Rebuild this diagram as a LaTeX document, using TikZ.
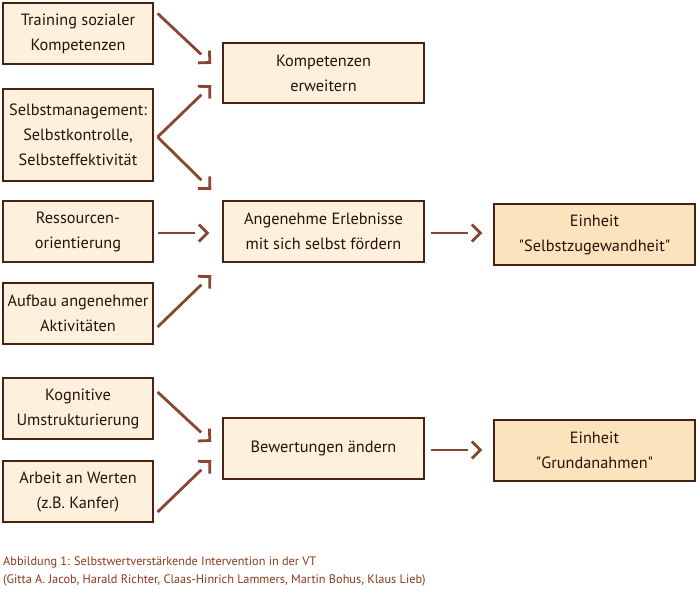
\documentclass[tikz,border=0pt]{standalone}
\usepackage{fontspec}
\setmainfont{PT Sans}
\usetikzlibrary{arrows.meta,calc,decorations.markings}
\definecolor{txt}{HTML}{2A1206}
\definecolor{brd}{HTML}{4A2212}
\definecolor{fillL}{HTML}{FDF0DC}
\definecolor{fillR}{HTML}{FBE3BE}
\definecolor{arr}{HTML}{8B4632}
\definecolor{cap}{HTML}{8B3A1A}
\tikzset{
  box/.style={draw=brd, line width=1.2pt, fill=fillL, text=txt, align=center, inner sep=0pt,
    font=\fontsize{16.3}{25}\selectfont},
  lbox/.style={box, minimum width=150pt, minimum height=61pt},
  mbox/.style={box, minimum width=201pt, minimum height=61pt},
  rbox/.style={box, fill=fillR, minimum width=201pt, minimum height=61pt},
  con/.style={draw=arr, line width=2.8pt, shorten >=14pt,
    postaction={decorate},
    decoration={markings, mark=at position 1 with {\arrow[draw=arr, line width=2.8pt]{Straight Barb[angle=90:12pt 0]}}}},
}
\begin{document}
\begin{tikzpicture}[x=1pt,y=-1pt]
\useasboundingbox[fill=white] (0,0) rectangle (700,600);
% left column
\node[lbox] (b1) at (78,33.5) {Training sozialer\\Kompetenzen};
\node[lbox, minimum height=92pt] (b2) at (78,135) {Selbstmanagement:\\Selbstkontrolle,\\Selbsteffektivität};
\node[lbox] (b3) at (78,231.5) {Ressourcen-\\orientierung};
\node[lbox] (b4) at (78,313.5) {Aufbau angenehmer\\Aktivitäten};
\node[lbox] (b5) at (78,408.5) {Kognitive\\Umstrukturierung};
\node[lbox] (b6) at (78,491.5) {Arbeit an Werten\\(z.B. Kanfer)};
% middle column
\node[mbox, minimum height=60pt] (k) at (323.5,73) {Kompetenzen\\erweitern};
\node[mbox] (a) at (323.5,231.5) {Angenehme Erlebnisse\\mit sich selbst fördern};
\node[mbox] (w) at (323.5,448.5) {Bewertungen ändern};
% right column
\node[rbox] (e1) at (594.5,234.5) {Einheit\\\textquotedbl Selbstzugewandheit\textquotedbl};
\node[rbox] (e2) at (594.5,450.5) {Einheit\\\textquotedbl Grundanahmen\textquotedbl};
% connectors
\draw[con] ($(b1.north east)+(4,11)$) -- ($(k.west)+(-11,-9)$);
\draw[con] ($(b2.east)+(4,2)$) -- ($(k.west)+(-11,12)$);
\draw[con] ($(b2.east)+(4,2)$) -- ($(a.west)+(-11,-41.5)$);
\draw[con] ($(b3.east)+(4,1.5)$) -- ($(a.west)+(-13,1.5)$);
\draw[con] ($(b4.east)+(4,13.5)$) -- ($(a.west)+(-11,43.5)$);
\draw[con] ($(a.east)+(6,1.5)$) -- ($(e1.west)+(-11,-1.5)$);
\draw[con] ($(b5.east)+(4,-16.5)$) -- ($(w.west)+(-11,-6.5)$);
\draw[con] ($(b6.east)+(4,20.5)$) -- ($(w.west)+(-11,11.5)$);
\draw[con] ($(w.east)+(6,1.5)$) -- ($(e2.west)+(-11,-0.5)$);
% caption
\node[anchor=north west, inner sep=0pt, align=left, text=cap, font=\fontsize{12.3}{18}\selectfont] (capt) at (3,557)
  {Abbildung 1: Selbstwertverstärkende Intervention in der VT\\(Gitta A. Jacob, Harald Richter, Claas-Hinrich Lammers, Martin Bohus, Klaus Lieb)};
\end{tikzpicture}
\end{document}
